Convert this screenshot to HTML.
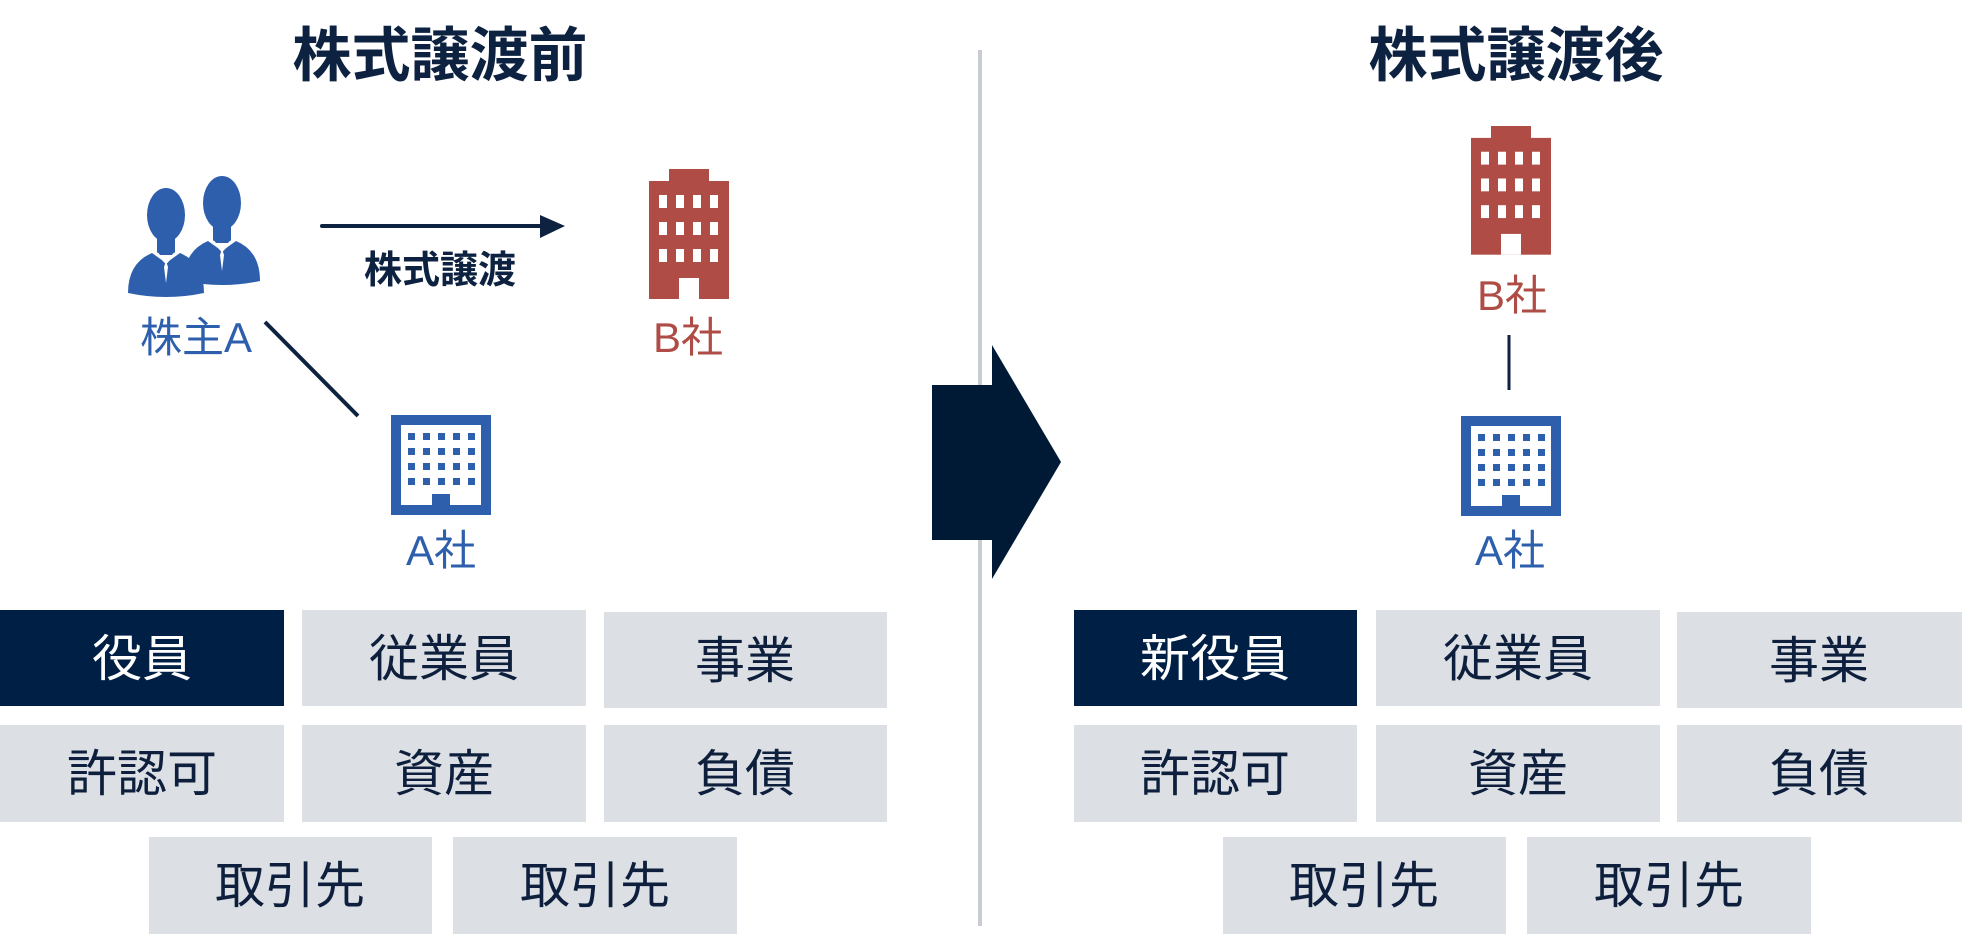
<!DOCTYPE html>
<html><head><meta charset="utf-8"><style>
html,body{margin:0;padding:0;background:#fff;width:1962px;height:947px;overflow:hidden}
svg text{font-family:"Liberation Sans","Noto Sans CJK JP",sans-serif}
</style></head><body>
<svg width="1962" height="947" viewBox="0 0 1962 947" xmlns="http://www.w3.org/2000/svg">
<defs>
<g id="red">
<rect x="20" y="0" width="40" height="13" fill="#ae4c45"/>
<rect x="0" y="12" width="80" height="118" fill="#ae4c45"/>
<g fill="#fff">
<rect x="10" y="26" width="8" height="13"/><rect x="27" y="26" width="8" height="13"/><rect x="44" y="26" width="8" height="13"/><rect x="61" y="26" width="8" height="13"/>
<rect x="10" y="53" width="8" height="13"/><rect x="27" y="53" width="8" height="13"/><rect x="44" y="53" width="8" height="13"/><rect x="61" y="53" width="8" height="13"/>
<rect x="10" y="80" width="8" height="13"/><rect x="27" y="80" width="8" height="13"/><rect x="44" y="80" width="8" height="13"/><rect x="61" y="80" width="8" height="13"/>
<rect x="30" y="109" width="20" height="21"/>
</g></g>
<g id="blue">
<rect x="0" y="0" width="100" height="100" fill="#2e5fac"/>
<rect x="10" y="10" width="80" height="80" fill="#fff"/>
<g fill="#2e5fac">
<rect x="17" y="18" width="7" height="7"/><rect x="32" y="18" width="7" height="7"/><rect x="47" y="18" width="7" height="7"/><rect x="62" y="18" width="7" height="7"/><rect x="77" y="18" width="7" height="7"/>
<rect x="17" y="33" width="7" height="7"/><rect x="32" y="33" width="7" height="7"/><rect x="47" y="33" width="7" height="7"/><rect x="62" y="33" width="7" height="7"/><rect x="77" y="33" width="7" height="7"/>
<rect x="17" y="48" width="7" height="7"/><rect x="32" y="48" width="7" height="7"/><rect x="47" y="48" width="7" height="7"/><rect x="62" y="48" width="7" height="7"/><rect x="77" y="48" width="7" height="7"/>
<rect x="17" y="63" width="7" height="7"/><rect x="32" y="63" width="7" height="7"/><rect x="47" y="63" width="7" height="7"/><rect x="62" y="63" width="7" height="7"/><rect x="77" y="63" width="7" height="7"/>
<rect x="41" y="79" width="18" height="11"/>
</g></g>
<g id="person">
<ellipse cx="0" cy="0" rx="19" ry="27" fill="#2e5fac"/>
<rect x="-9" y="20" width="18" height="20" fill="#2e5fac"/>
<path d="M-38 78 Q-38 48 -14 38 L0 48 L14 38 Q38 48 38 78 Q0 86 -38 78Z" fill="#2e5fac"/>
<path d="M-9 38 L0 48 L9 38" stroke="#fff" stroke-width="2" fill="none"/>
<path d="M0 46 L-2 52 L0 68 L2 52Z" fill="#fff"/>
</g>
</defs>

<text x="440" y="76" font-size="59" font-weight="bold" fill="#0d2240" text-anchor="middle">株式譲渡前</text>
<text x="1516" y="76" font-size="59" font-weight="bold" fill="#0d2240" text-anchor="middle">株式譲渡後</text>

<rect x="978" y="50" width="4" height="876" fill="#c9ccd1"/>

<rect x="932" y="385" width="62" height="155" fill="#001a35"/>
<polygon points="992,345 1061,462 992,579" fill="#001a35"/>

<use href="#person" x="222" y="203"/>
<use href="#person" x="166" y="215"/>
<text x="196" y="352" font-size="42" fill="#2e5fac" text-anchor="middle">株主A</text>
<line x1="322" y1="226" x2="545" y2="226" stroke="#0d2240" stroke-width="4" stroke-linecap="round"/>
<polygon points="540,215 565,226 540,238" fill="#0d2240"/>
<text x="440" y="283" font-size="38" font-weight="bold" fill="#0d2240" text-anchor="middle">株式譲渡</text>
<use href="#red" transform="translate(649,169)"/>
<text x="688" y="352" font-size="42" fill="#ae4c45" text-anchor="middle">B社</text>
<line x1="265" y1="322" x2="358" y2="416" stroke="#0d2240" stroke-width="4"/>
<use href="#blue" x="391" y="415"/>
<text x="441" y="565" font-size="42" fill="#2e5fac" text-anchor="middle">A社</text>

<use href="#red" transform="translate(1471,126) scale(1,0.99)"/>
<text x="1512" y="310" font-size="42" fill="#ae4c45" text-anchor="middle">B社</text>
<line x1="1509" y1="335" x2="1509" y2="390" stroke="#0d2240" stroke-width="3"/>
<use href="#blue" x="1461" y="416"/>
<text x="1510" y="565" font-size="42" fill="#2e5fac" text-anchor="middle">A社</text>

<g font-size="50" text-anchor="middle" fill="#0d1f3c">
<rect x="0" y="610" width="284" height="96" fill="#001f45"/>
<text x="142" y="676" fill="#fff">役員</text>
<rect x="302" y="610" width="284" height="96" fill="#dcdfe3"/>
<text x="444" y="676">従業員</text>
<rect x="604" y="612" width="283" height="96" fill="#dcdfe3"/>
<text x="745" y="678">事業</text>
<rect x="0" y="725" width="284" height="97" fill="#dcdfe3"/>
<text x="142" y="791">許認可</text>
<rect x="302" y="725" width="284" height="97" fill="#dcdfe3"/>
<text x="444" y="791">資産</text>
<rect x="604" y="725" width="283" height="97" fill="#dcdfe3"/>
<text x="745" y="791">負債</text>
<rect x="149" y="837" width="283" height="97" fill="#dcdfe3"/>
<text x="290" y="903">取引先</text>
<rect x="453" y="837" width="284" height="97" fill="#dcdfe3"/>
<text x="595" y="903">取引先</text>

<rect x="1074" y="610" width="283" height="96" fill="#001f45"/>
<text x="1215" y="676" fill="#fff">新役員</text>
<rect x="1376" y="610" width="284" height="96" fill="#dcdfe3"/>
<text x="1518" y="676">従業員</text>
<rect x="1677" y="612" width="285" height="96" fill="#dcdfe3"/>
<text x="1819" y="678">事業</text>
<rect x="1074" y="725" width="283" height="97" fill="#dcdfe3"/>
<text x="1215" y="791">許認可</text>
<rect x="1376" y="725" width="284" height="97" fill="#dcdfe3"/>
<text x="1518" y="791">資産</text>
<rect x="1677" y="725" width="285" height="97" fill="#dcdfe3"/>
<text x="1819" y="791">負債</text>
<rect x="1223" y="837" width="283" height="97" fill="#dcdfe3"/>
<text x="1364" y="903">取引先</text>
<rect x="1527" y="837" width="284" height="97" fill="#dcdfe3"/>
<text x="1669" y="903">取引先</text>
</g>
</svg>
</body></html>
